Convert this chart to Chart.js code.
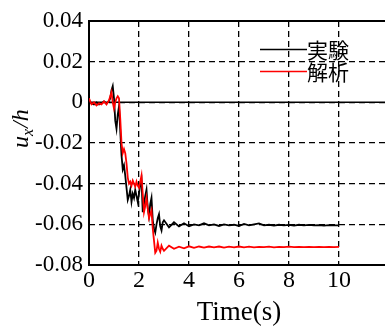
<!DOCTYPE html>
<html>
<head>
<meta charset="utf-8">
<script src="https://cdn.jsdelivr.net/npm/chart.js@4"></script>
<style>
  html, body { margin: 0; padding: 0; background: #fff; overflow: hidden; }
  #wrap { width: 400px; height: 328px; }
</style>
</head>
<body>
<div id="wrap"><canvas id="chart" width="400" height="328"></canvas></div>
<script>
// 時刻 (s)
const timeSec = [
  0, 0.1, 0.2, 0.3, 0.4, 0.5, 0.6, 0.7, 0.8,
  0.85, 0.9, 0.95, 1.0, 1.05, 1.1, 1.15, 1.2,
  1.25, 1.3, 1.35, 1.4, 1.45, 1.5, 1.55, 1.6, 1.65, 1.7, 1.75, 1.8,
  1.85, 1.9, 1.95, 2.0, 2.05, 2.1, 2.15, 2.2, 2.25, 2.3, 2.35, 2.4,
  2.45, 2.5, 2.55, 2.6, 2.65, 2.7, 2.75, 2.8, 2.85, 2.9, 2.95, 3.0,
  3.2, 3.4, 3.6, 3.8, 4.0, 4.2, 4.4, 4.6, 4.8, 5.0,
  5.2, 5.4, 5.6, 5.8, 6.0, 6.2, 6.4, 6.6, 6.8, 7.0,
  7.2, 7.4, 7.6, 7.8, 8.0, 8.2, 8.4, 8.6, 8.8, 9.0,
  9.2, 9.4, 9.6, 9.8, 10.0
];

// 実験の変位 ux/h
const dispExp = [
  0.0005, -0.0005, -0.001, 0.0, -0.001, -0.0005, 0.0005, -0.0005, 0.0005,
  0.002, 0.006, 0.008, 0.002, -0.009, -0.013, -0.006, -0.002,
  -0.014, -0.026, -0.033, -0.031, -0.036, -0.042, -0.048, -0.046, -0.043, -0.049, -0.045, -0.047,
  -0.043, -0.046, -0.049, -0.045, -0.040, -0.038, -0.054, -0.050, -0.046, -0.043, -0.052, -0.056,
  -0.050, -0.047, -0.058, -0.062, -0.064, -0.060, -0.057, -0.055, -0.061, -0.063, -0.059, -0.058,
  -0.0615, -0.059, -0.061, -0.0595, -0.061, -0.060, -0.0605, -0.0595, -0.0605, -0.060,
  -0.0608, -0.060, -0.0605, -0.0602, -0.0608, -0.0598, -0.0605, -0.060, -0.0595, -0.0605,
  -0.0602, -0.0606, -0.0602, -0.0605, -0.0603, -0.0606, -0.0602, -0.0605, -0.0603, -0.0605,
  -0.0604, -0.0606, -0.0604, -0.0605, -0.0605
];

// 解析の変位 ux/h
const dispAna = [
  0.002, -0.001, 0.0, -0.0015, -0.0005, -0.001, 0.0005, -0.001, 0.001,
  0.003, 0.005, 0.0, -0.003, 0.0, 0.002, 0.003, 0.002,
  -0.008, -0.020, -0.025, -0.023, -0.025, -0.030, -0.037, -0.040, -0.039, -0.041, -0.0385, -0.040,
  -0.0415, -0.039, -0.041, -0.042, -0.039, -0.036, -0.045, -0.054, -0.051, -0.047, -0.052, -0.057,
  -0.055, -0.053, -0.062, -0.068, -0.074, -0.073, -0.069, -0.072, -0.0735, -0.0705, -0.072, -0.073,
  -0.0705, -0.072, -0.071, -0.0718, -0.0708, -0.0716, -0.0709, -0.0714, -0.0709, -0.0713,
  -0.0709, -0.0714, -0.071, -0.0713, -0.0709, -0.0713, -0.071, -0.0713, -0.0711, -0.0712,
  -0.071, -0.0713, -0.0711, -0.0712, -0.071, -0.0712, -0.0711, -0.0712, -0.0711, -0.0712,
  -0.0711, -0.0712, -0.0711, -0.0712, -0.0711
];

const seriesNames = ["実験", "解析"];
const seriesColors = ["#000000", "#ff0000"];

// 軸の範囲と目盛
const xRange = [0, 12];
const xStep = 2;
const yRange = [-0.08, 0.04];
const yStep = 0.02;

function toPoints(values) {
  return timeSec.map((t, i) => ({ x: t, y: values[i] }));
}

// 枠線と y=0 の実線
const framePlugin = {
  id: "frame",
  beforeDatasetsDraw(chart) {
    const { ctx, chartArea: a, scales } = chart;
    ctx.save();
    ctx.strokeStyle = "#000";
    ctx.lineWidth = 1.5;
    const y0 = scales.y.getPixelForValue(0);
    ctx.beginPath();
    ctx.moveTo(a.left, y0);
    ctx.lineTo(a.right, y0);
    ctx.stroke();
    ctx.lineWidth = 2;
    ctx.strokeRect(a.left, a.top, a.right - a.left, a.bottom - a.top);
    ctx.restore();
  }
};

// グラフ内の凡例
const innerLegend = {
  id: "innerLegend",
  afterDatasetsDraw(chart) {
    const ctx = chart.ctx;
    ctx.save();
    ctx.font = '21px "Noto Sans CJK JP"';
    ctx.textBaseline = "middle";
    ctx.textAlign = "left";
    seriesNames.forEach((name, i) => {
      const y = 49.5 + i * 22;
      ctx.strokeStyle = seriesColors[i];
      ctx.lineWidth = 1.5;
      ctx.beginPath();
      ctx.moveTo(260, y);
      ctx.lineTo(307, y);
      ctx.stroke();
      ctx.fillStyle = "#000";
      ctx.fillText(name, 307, y + 1);
    });
    ctx.restore();
  }
};

// 縦軸タイトル u_x/h（下付き文字つき）
const yTitle = {
  id: "yTitle",
  afterDraw(chart) {
    const ctx = chart.ctx;
    ctx.save();
    ctx.translate(28, 148);
    ctx.rotate(-Math.PI / 2);
    ctx.fillStyle = "#000";
    ctx.textBaseline = "alphabetic";
    ctx.font = 'italic 24px "Liberation Serif"';
    ctx.fillText("u", 0, 0);
    let x = ctx.measureText("u").width;
    ctx.font = 'italic 16px "Liberation Serif"';
    ctx.fillText("x", x, 5);
    x += ctx.measureText("x").width + 1;
    ctx.font = 'italic 24px "Liberation Serif"';
    ctx.fillText("/h", x, 0);
    ctx.restore();
  }
};

const ctx = document.getElementById("chart").getContext("2d");
const chart = new Chart(ctx, {
  type: "line",
  data: {
    datasets: [
      {
        label: seriesNames[0],
        data: toPoints(dispExp),
        borderColor: seriesColors[0],
        borderWidth: 1.8,
        pointRadius: 0,
        tension: 0,
        order: 2
      },
      {
        label: seriesNames[1],
        data: toPoints(dispAna),
        borderColor: seriesColors[1],
        borderWidth: 1.8,
        pointRadius: 0,
        tension: 0,
        order: 1
      }
    ]
  },
  options: {
    responsive: false,
    animation: false,
    devicePixelRatio: 1,
    layout: { padding: { left: 0, top: 21, right: 11, bottom: 0 } },
    plugins: {
      legend: { display: false },
      tooltip: { enabled: false }
    },
    scales: {
      x: {
        type: "linear",
        min: xRange[0],
        max: xRange[1],
        afterFit: (scale) => { scale.height = 63; },
        ticks: {
          stepSize: xStep,
          padding: 1,
          color: "#000",
          font: { family: "Liberation Serif", size: 24 },
          maxRotation: 0,
          callback: (v) => (v === xRange[1] ? "" : String(v))
        },
        grid: { color: "#000", lineWidth: 1.3, drawTicks: false },
        border: { display: false, dash: [6, 4] },
        title: {
          display: true,
          text: "Time(s)",
          color: "#000",
          font: { family: "Liberation Serif", size: 27, lineHeight: 1.1 },
          padding: 0
        }
      },
      y: {
        min: yRange[0],
        max: yRange[1],
        afterFit: (scale) => { scale.width = 89; },
        ticks: {
          stepSize: yStep,
          padding: 6,
          color: "#000",
          font: { family: "Liberation Serif", size: 23 },
          callback: (v) => (Math.abs(v) < 1e-9 ? "0" : v.toFixed(2))
        },
        grid: { color: "#000", lineWidth: 1.3, drawTicks: false },
        border: { display: false, dash: [6, 4] }
      }
    }
  },
  plugins: [framePlugin, innerLegend, yTitle]
});
</script>
</body>
</html>
